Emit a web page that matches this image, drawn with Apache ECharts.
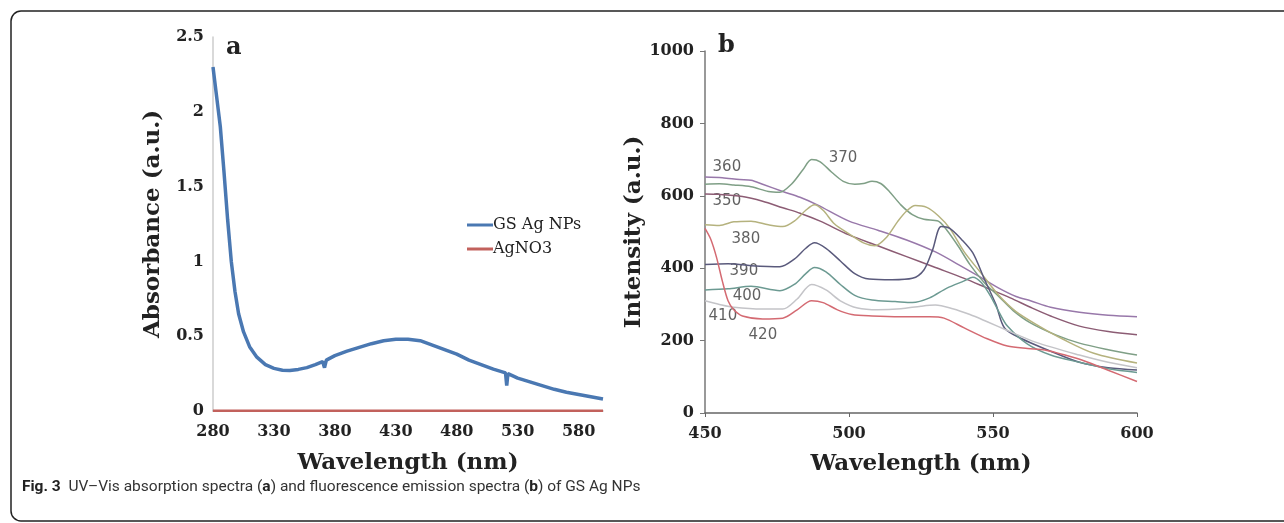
<!DOCTYPE html>
<html>
<head>
<meta charset="utf-8">
<title>UV-Vis and fluorescence spectra of GS Ag NPs</title>
<script src="https://cdn.jsdelivr.net/npm/echarts@6/dist/echarts.min.js"></script>
<style>
  html, body { margin: 0; padding: 0; background: #fff; }
  #fig { width: 1284px; height: 523px; }
</style>
</head>
<body>
<div id="fig"></div>
<script>
// panel a : UV-Vis absorption, [wavelength nm, absorbance]
var absGS = [
  [280, 2.30], [283, 2.10], [286, 1.90], [289, 1.60], [292, 1.28], [295, 1.00],
  [298, 0.80], [301, 0.65], [305, 0.53], [310, 0.43], [316, 0.36], [323, 0.31],
  [330, 0.285], [337, 0.272], [343, 0.27], [350, 0.278], [357, 0.29], [364, 0.31],
  [370, 0.33], [371.5, 0.29], [373, 0.34], [380, 0.37], [390, 0.40], [400, 0.425],
  [410, 0.45], [420, 0.47], [430, 0.48], [440, 0.48], [450, 0.47], [460, 0.44],
  [470, 0.41], [480, 0.38], [490, 0.34], [500, 0.31], [510, 0.28], [520, 0.255],
  [521, 0.17], [522, 0.25], [530, 0.22], [540, 0.195], [550, 0.17], [560, 0.145],
  [570, 0.125], [580, 0.11], [590, 0.095], [600, 0.08]
];
var absAgNO3 = [[280, 0.002], [360, 0.002], [440, 0.002], [520, 0.002], [600, 0.002]];
var xTicksA = [280, 330, 380, 430, 480, 530, 580];

// panel b : fluorescence emission, [wavelength nm, intensity] per excitation
var em350 = [[450,605],[455,604],[463,598],[470,585],[477,567],[483,552],[490,530],[500,492],[510,462],[520,432],[530,402],[540,372],[548,345],[556,318],[563,292],[570,268],[580,240],[590,225],[600,216]];
var em360 = [[450,652],[456,650],[462,645],[466,643],[470,632],[477,612],[483,596],[489,575],[500,530],[510,505],[520,478],[530,445],[538,410],[545,378],[552,345],[558,322],[563,310],[570,292],[580,278],[590,270],[600,266]];
var em370 = [[450,632],[455,633],[460,630],[466,625],[472,612],[476,610],[480,632],[484,672],[487,700],[490,694],[494,665],[498,640],[502,632],[505,634],[508,640],[511,634],[514,612],[518,575],[522,548],[526,535],[531,530],[534,505],[538,460],[542,410],[547,360],[552,322],[557,283],[563,249],[572,215],[580,193],[590,175],[600,160]];
var em380 = [[450,520],[455,518],[460,528],[466,530],[472,520],[477,515],[481,530],[485,560],[488,575],[491,560],[495,522],[500,495],[505,470],[509,462],[513,485],[517,530],[520,558],[523,573],[527,568],[531,545],[535,510],[540,445],[546,385],[552,325],[558,280],[566,240],[574,205],[585,165],[600,138]];
var em390 = [[450,410],[458,412],[466,407],[476,404],[481,425],[485,455],[488,470],[492,455],[497,420],[502,385],[507,370],[515,368],[522,372],[526,395],[529,450],[532,515],[535,510],[539,480],[543,442],[547,370],[551,300],[554,235],[560,205],[569,174],[580,140],[590,125],[600,119]];
var em400 = [[450,340],[458,343],[466,350],[476,338],[481,355],[485,385],[488,402],[492,390],[497,355],[502,325],[508,312],[516,308],[522,305],[528,318],[534,345],[540,365],[543,375],[546,360],[549,325],[552,280],[555,240],[562,190],[570,160],[580,140],[590,122],[600,112]];
var em410 = [[450,310],[455,300],[460,292],[470,287],[477,287],[482,315],[487,355],[492,340],[497,310],[503,290],[510,285],[518,288],[525,295],[530,298],[536,288],[542,272],[548,252],[555,228],[565,195],[580,160],[590,140],[600,125]];
var em420 = [[450,510],[452,480],[454,430],[456,365],[458,310],[460,285],[463,268],[470,260],[477,262],[482,285],[487,310],[491,305],[496,285],[501,272],[508,268],[518,266],[528,266],[533,262],[540,235],[548,205],[555,185],[562,178],[568,174],[575,160],[582,143],[590,118],[600,87]];

var excitation = ['350', '360', '370', '380', '390', '400', '410', '420'];
// where each excitation number is written, in data units of panel b
var tagAt = [[457.6, 584], [457.6, 678], [497.9, 703], [464.2, 481], [463.5, 393], [464.6, 324], [456.2, 268], [470.1, 216]];

var emColors = ['#8c5c74', '#9878aa', '#7f9f86', '#b5b27e', '#5a5a7c', '#6c9a92', '#c4c4c8', '#d46a72'];

var serif = 'DejaVu Serif';
var ink = '#222';

var chart = echarts.init(document.getElementById('fig'));

var tickFont = { color: ink, fontFamily: serif, fontWeight: 'bold', fontSize: 16 };
var nameFont = { color: ink, fontFamily: serif, fontWeight: 'bold', fontSize: 23 };

var emSeries = [em350, em360, em370, em380, em390, em400, em410, em420].map(function (d, i) {
    return {
        name: excitation[i],
        type: 'line',
        xAxisIndex: 1,
        yAxisIndex: 1,
        data: d,
        showSymbol: false,
        smooth: 0.3,
        lineStyle: { color: emColors[i], width: 1.5 },
        silent: true
    };
});

var option = {
    animation: false,
    backgroundColor: '#fff',
    grid: [
        { left: 213, top: 37, width: 390, height: 374 },
        { left: 705, top: 51, width: 432, height: 362 }
    ],
    legend: {
        data: ['GS Ag NPs', 'AgNO3'],
        left: 462,
        top: 212,
        orient: 'vertical',
        icon: 'rect',
        itemWidth: 26,
        itemHeight: 3,
        itemGap: 8,
        textStyle: { color: ink, fontFamily: serif, fontSize: 16, padding: [0, 0, 0, -5] }
    },
    xAxis: [{
        type: 'value', gridIndex: 0, min: 280, max: 600,
        name: 'Wavelength (nm)', nameLocation: 'middle', nameGap: 41, nameTextStyle: nameFont,
        axisLine: { show: true, lineStyle: { color: '#bbb', width: 1.5 } },
        axisTick: { show: false },
        splitLine: { show: false },
        axisLabel: Object.assign({ customValues: xTicksA, margin: 13 }, tickFont)
    }, {
        type: 'value', gridIndex: 1, min: 450, max: 600, interval: 50,
        name: 'Wavelength (nm)', nameLocation: 'middle', nameGap: 40, nameTextStyle: nameFont,
        axisLine: { show: true, lineStyle: { color: '#666', width: 1.5 } },
        axisTick: { show: true, length: 4, lineStyle: { color: '#666' } },
        splitLine: { show: false },
        axisLabel: Object.assign({ margin: 13 }, tickFont)
    }],
    yAxis: [{
        type: 'value', gridIndex: 0, min: 0, max: 2.5, interval: 0.5,
        name: 'Absorbance (a.u.)', nameLocation: 'middle', nameGap: 48, nameTextStyle: nameFont,
        axisLine: { show: true, lineStyle: { color: '#ccc', width: 1.5 } },
        axisTick: { show: false },
        splitLine: { show: false },
        axisLabel: Object.assign({ margin: 9 }, tickFont)
    }, {
        type: 'value', gridIndex: 1, min: 0, max: 1000, interval: 200,
        name: 'Intensity (a.u.)', nameLocation: 'middle', nameGap: 53, nameTextStyle: nameFont,
        axisLine: { show: true, lineStyle: { color: '#777', width: 1.5 } },
        axisTick: { show: true, length: 5, lineStyle: { color: '#777' } },
        splitLine: { show: false },
        axisLabel: Object.assign({ margin: 11, formatter: function (v) { return String(v); } }, tickFont)
    }],
    series: [{
        name: 'GS Ag NPs',
        type: 'line',
        xAxisIndex: 0, yAxisIndex: 0,
        data: absGS,
        showSymbol: false,
        itemStyle: { color: '#4a78b2' },
        lineStyle: { color: '#4a78b2', width: 3.5 },
        z: 3
    }, {
        name: 'AgNO3',
        type: 'line',
        xAxisIndex: 0, yAxisIndex: 0,
        data: absAgNO3,
        showSymbol: false,
        itemStyle: { color: '#c2615c' },
        lineStyle: { color: '#c2615c', width: 2.5 },
        z: 4
    }].concat(emSeries).concat([{
        name: 'excitation tags',
        type: 'scatter',
        xAxisIndex: 1, yAxisIndex: 1,
        symbolSize: 0,
        data: tagAt.map(function (p, i) { return { value: p, name: excitation[i] }; }),
        label: {
            show: true, position: 'inside', formatter: '{b}',
            color: '#3a3a3a', fontFamily: 'DejaVu Sans', fontSize: 15
        },
        silent: true
    }]),
    graphic: [{
        type: 'rect',
        shape: { x: 11, y: 11, width: 1300, height: 510, r: 10 },
        style: { fill: null, stroke: '#222', lineWidth: 1.5 },
        silent: true
    }, {
        type: 'text', left: 226, top: 36,
        style: { text: 'a', fill: ink, font: 'bold 24px "DejaVu Serif"' }
    }, {
        type: 'text', left: 718, top: 34,
        style: { text: 'b', fill: ink, font: 'bold 24px "DejaVu Serif"' }
    }, {
        type: 'text', left: 22, top: 479,
        style: {
            text: '{b|Fig. 3}  UV–Vis absorption spectra ({b|a}) and fluorescence emission spectra ({b|b}) of GS Ag NPs',
            fill: '#333',
            font: '15.5px Roboto',
            rich: {
                b: { fontWeight: 'bold', fontFamily: 'Roboto', fontSize: 15.5, fill: '#222' }
            }
        }
    }]
};

chart.setOption(option);
window.addEventListener('resize', function () {
    chart.resize();
});
</script>
</body>
</html>
